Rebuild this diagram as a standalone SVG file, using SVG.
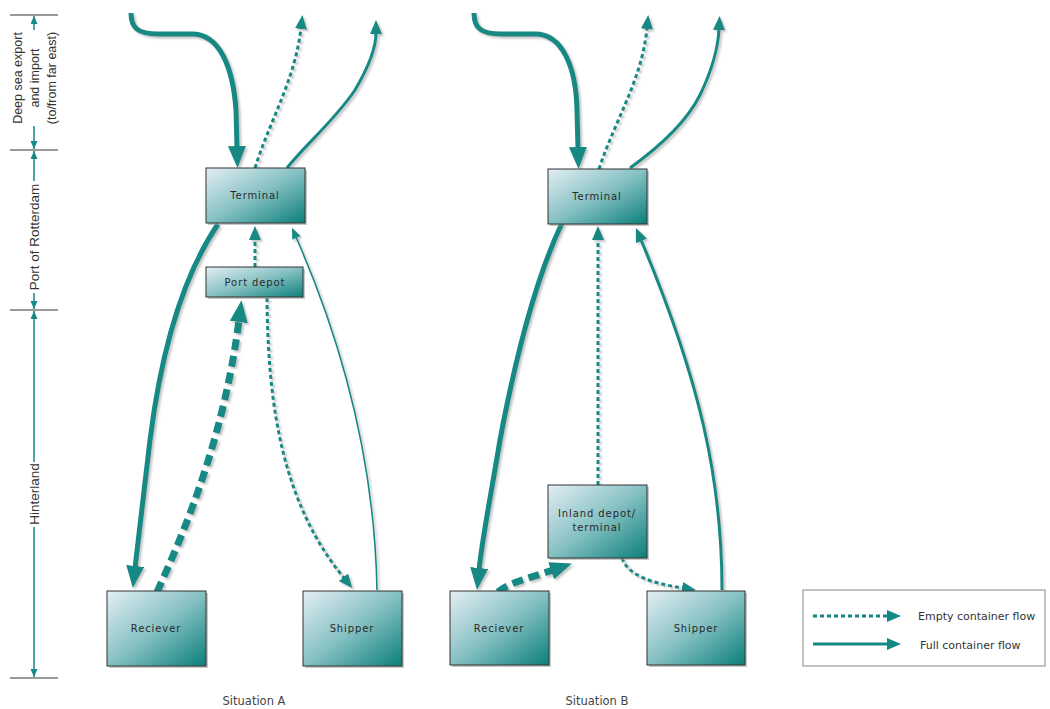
<svg xmlns="http://www.w3.org/2000/svg" width="1050" height="709" viewBox="0 0 1050 709">
<style>
.box{stroke:#333;stroke-width:1;fill:url(#g)}
.sh{fill:#999;opacity:.55}
.bt{font-family:"DejaVu Sans",Verdana,sans-serif;font-size:10px;letter-spacing:0.9px;fill:#2a2a2a;text-anchor:middle}
.ax{font-family:"Liberation Sans",Arial,sans-serif;font-size:13.5px;fill:#333;text-anchor:middle}
.ax2{font-family:"Liberation Sans",Arial,sans-serif;font-size:12.5px;fill:#333;text-anchor:middle}
.cap{font-family:"DejaVu Sans",Verdana,sans-serif;font-size:11.5px;fill:#444;text-anchor:middle}
.lg{font-family:"DejaVu Sans",Verdana,sans-serif;font-size:11px;fill:#333}
.c{fill:none;stroke:#128984}
.thick{stroke-width:5}
.mid{stroke-width:3}
.thin{stroke-width:1.6}
.d1{stroke-width:3;stroke-dasharray:4 3}
.d2{stroke-width:7;stroke-dasharray:11 6}
.tick{stroke:#999;stroke-width:2}
.axl{stroke:#128984;stroke-width:1.5}
</style>
<defs>
<linearGradient id="g" x1="0" y1="0" x2="1" y2="1">
<stop offset="0" stop-color="#e3eef4"/>
<stop offset="0.5" stop-color="#86c1c3"/>
<stop offset="1" stop-color="#0b7f7a"/>
</linearGradient>
<filter id="ds" x="-20%" y="-20%" width="140%" height="140%">
<feDropShadow dx="2" dy="2" stdDeviation="1" flood-color="#888" flood-opacity="0.5"/>
</filter>
<marker id="big" markerUnits="userSpaceOnUse" markerWidth="24" markerHeight="20" refX="2" refY="9" orient="auto">
<path d="M0,0 L22,9 L0,18 z" fill="#128984"/>
</marker>
<marker id="md" markerUnits="userSpaceOnUse" markerWidth="16" markerHeight="14" refX="1" refY="6" orient="auto">
<path d="M0,0 L14,6 L0,12 z" fill="#128984"/>
</marker>
<marker id="sm" markerUnits="userSpaceOnUse" markerWidth="12" markerHeight="10" refX="1" refY="4.5" orient="auto">
<path d="M0,0 L11,4.5 L0,9 z" fill="#128984"/>
</marker>
<marker id="ax" markerUnits="userSpaceOnUse" markerWidth="9" markerHeight="8" refX="8" refY="3.5" orient="auto">
<path d="M0,0 L8,3.5 L0,7 z" fill="#128984"/>
</marker>
</defs>

<g id="axis">
<line class="tick" x1="10" y1="15" x2="58" y2="15"/>
<line class="tick" x1="10" y1="150" x2="58" y2="150"/>
<line class="tick" x1="10" y1="310" x2="58" y2="310"/>
<line class="tick" x1="10" y1="678" x2="58" y2="678"/>
<line class="axl" x1="34" y1="30" x2="34" y2="16" marker-end="url(#ax)"/>
<line class="axl" x1="34" y1="126" x2="34" y2="149" marker-end="url(#ax)"/>
<line class="axl" x1="34" y1="181" x2="34" y2="151" marker-end="url(#ax)"/>
<line class="axl" x1="34" y1="293" x2="34" y2="309" marker-end="url(#ax)"/>
<line class="axl" x1="34" y1="462" x2="34" y2="311" marker-end="url(#ax)"/>
<line class="axl" x1="34" y1="527" x2="34" y2="677" marker-end="url(#ax)"/>
<text class="ax2" transform="translate(22,78) rotate(-90)">Deep sea export</text>
<text class="ax2" transform="translate(39,78) rotate(-90)">and import</text>
<text class="ax2" transform="translate(56,78) rotate(-90)">(to/from far east)</text>
<text class="ax" transform="translate(39,237) rotate(-90)">Port of Rotterdam</text>
<text class="ax" transform="translate(39,494) rotate(-90)">Hinterland</text>
</g>

<g id="connectors" filter="url(#ds)">
<!-- Situation A -->
<path class="c thick" d="M131,13 C131,28 138,34 158,34 L192,34 C220,34 233,68 236,110 L237,148" marker-end="url(#big)"/>
<path class="c d1" d="M255,168 C270,120 295,80 301,28" marker-end="url(#md)"/>
<path class="c mid" d="M287,168 C305,145 335,120 355,90 C368,68 376,48 376,33" marker-end="url(#md)"/>
<path class="c thick" d="M218,224 C180,280 160,360 150,440 C143,500 138,540 135,568" marker-end="url(#big)"/>
<path class="c d1" d="M255,267 L255,239" marker-end="url(#md)"/>
<path class="c d2" d="M157,592 C190,520 225,430 239,320" marker-end="url(#big)"/>
<path class="c d1" d="M267,298 C268,400 280,500 344,578" marker-end="url(#md)"/>
<path class="c thin" d="M377,590 C375,480 350,360 296,237" marker-end="url(#sm)"/>
<!-- Situation B -->
<path class="c thick" d="M474,13 C474,28 481,34 501,34 L535,34 C563,34 576,68 577,110 L578,149" marker-end="url(#big)"/>
<path class="c d1" d="M599,169 C615,120 642,80 647,28" marker-end="url(#md)"/>
<path class="c mid" d="M630,168 C655,150 685,125 700,95 C712,70 718,50 719,29" marker-end="url(#md)"/>
<path class="c thick" d="M562,223 C535,280 515,360 500,440 C490,500 482,540 479,570" marker-end="url(#big)"/>
<path class="c d1" d="M598,485 L598,239" marker-end="url(#md)"/>
<path class="c mid" d="M722,590 C722,480 700,380 641,240" marker-end="url(#md)"/>
<path class="c d2" d="M498,592 C510,582 530,578 553,570" marker-end="url(#big)"/>
<path class="c d1" d="M622,558 C628,575 650,583 683,588" marker-end="url(#md)"/>
</g>

<g id="terminal-a">
<rect class="sh" x="208" y="170" width="99" height="55"/>
<rect class="box" x="206" y="168" width="99" height="55"/>
<text class="bt" x="255" y="199">Terminal</text>
</g>
<g id="port-depot">
<rect class="sh" x="208" y="269" width="97" height="30"/>
<rect class="box" x="206" y="267" width="97" height="30"/>
<text class="bt" x="255" y="286">Port depot</text>
</g>
<g id="receiver-a">
<rect class="sh" x="109" y="593" width="99" height="75"/>
<rect class="box" x="107" y="591" width="99" height="75"/>
<text class="bt" x="156" y="632">Reciever</text>
</g>
<g id="shipper-a">
<rect class="sh" x="305" y="593" width="99" height="75"/>
<rect class="box" x="303" y="591" width="99" height="75"/>
<text class="bt" x="352" y="632">Shipper</text>
</g>

<g id="terminal-b">
<rect class="sh" x="550" y="171" width="99" height="55"/>
<rect class="box" x="548" y="169" width="99" height="55"/>
<text class="bt" x="597" y="200">Terminal</text>
</g>
<g id="inland-depot">
<rect class="sh" x="550" y="487" width="99" height="73"/>
<rect class="box" x="548" y="485" width="99" height="73"/>
<text class="bt" x="597" y="517">Inland depot/</text>
<text class="bt" x="597" y="531">terminal</text>
</g>
<g id="receiver-b">
<rect class="sh" x="452" y="593" width="99" height="74"/>
<rect class="box" x="450" y="591" width="99" height="74"/>
<text class="bt" x="499" y="632">Reciever</text>
</g>
<g id="shipper-b">
<rect class="sh" x="649" y="593" width="98" height="74"/>
<rect class="box" x="647" y="591" width="98" height="74"/>
<text class="bt" x="696" y="632">Shipper</text>
</g>

<g id="legend">
<rect x="803" y="590" width="242" height="76" fill="#fff" stroke="#888" stroke-width="1"/>
<path class="c d1" d="M813,616 L888,616" marker-end="url(#md)"/>
<path class="c mid" d="M813,644 L888,644" marker-end="url(#md)"/>
<text class="lg" x="918" y="620">Empty container flow</text>
<text class="lg" x="920" y="649">Full container flow</text>
</g>

<g id="captions">
<text class="cap" x="254" y="705">Situation A</text>
<text class="cap" x="597" y="705">Situation B</text>
</g>
</svg>
